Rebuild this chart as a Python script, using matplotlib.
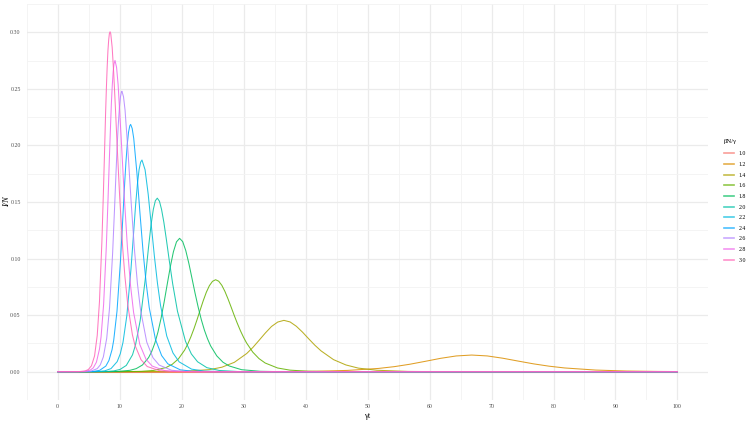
import numpy as np
import matplotlib.pyplot as plt
from matplotlib.lines import Line2D

plt.rcParams['font.family'] = ['Liberation Serif', 'DejaVu Serif']

# I/N for each value of beta*N/gamma (x = gamma*t)
r0_labels = ['1.0', '1.2', '1.4', '1.6', '1.8', '2.0', '2.2', '2.4', '2.6', '2.8', '3.0']
colors = ['#F8766D', '#DB8E00', '#AEA200', '#64B200', '#00BD5C', '#00C1A7',
          '#00BADE', '#00A6FF', '#B385FF', '#EF67EB', '#FF63B6']

x_10 = [0, 100]
y_10 = [0, 0]

x_12 = [0, 6.8, 16.8, 26.8, 36.8, 41.8, 46.8, 51.8, 54.3, 56.8, 59.3, 61.8, 64.3, 66.8,
        69.3, 71.8, 74.3, 76.8, 79.3, 81.8, 86.8, 91.8, 96.8, 100]
y_12 = [0, 0.0000004, 0.000003, 0.000022, 0.000165, 0.00044, 0.00117, 0.00293, 0.00448,
        0.0066, 0.00918, 0.01186, 0.01394, 0.01474, 0.01397, 0.01195, 0.00941, 0.00694,
        0.00489, 0.00333, 0.00147, 0.00062, 0.00026, 0.00015]

x_14 = [0, 16.5, 20.5, 24.5, 26.5, 28.5, 30.5, 31.5, 32.5, 33.5, 34.5, 35.5, 36.5, 37.5,
        38.5, 39.5, 40.5, 41.5, 42.5, 44.5, 46.5, 48.5, 51.5, 56.5, 61.5, 66.5, 100]
y_14 = [0, 0.00008, 0.00039, 0.00186, 0.0040, 0.0083, 0.0161, 0.0215, 0.0278, 0.0342,
        0.0400, 0.0439, 0.0454, 0.0440, 0.0402, 0.0350, 0.0291, 0.0234, 0.0184, 0.0107,
        0.0060, 0.0032, 0.0013, 0.00027, 0.00006, 0.00001, 0]

x_16 = [0, 10.48, 13.48, 15.48, 17.48, 18.48, 19.48, 20.48, 20.98, 21.48, 21.98, 22.48,
        22.98, 23.48, 23.98, 24.48, 24.98, 25.48, 25.98, 26.48, 26.98, 27.48, 27.98, 28.48,
        28.98, 29.48, 29.98, 30.48, 31.48, 32.48, 33.48, 35.48, 37.48, 40.48, 45.48, 100]
y_16 = [0, 0.00006, 0.00035, 0.00115, 0.0037, 0.00655, 0.01135, 0.0191, 0.0244, 0.0307,
        0.0379, 0.0459, 0.0544, 0.0627, 0.0702, 0.0761, 0.0799, 0.0813, 0.0800, 0.0764,
        0.0710, 0.0644, 0.0572, 0.0498, 0.0428, 0.0363, 0.0305, 0.0254, 0.0173, 0.0116,
        0.0077, 0.0033, 0.0014, 0.0004, 0.00005, 0]

x_18 = [0, 7.67, 9.67, 11.67, 12.67, 13.67, 14.67, 15.17, 15.67, 16.17, 16.67, 17.17, 17.67,
        18.17, 18.67, 19.17, 19.67, 20.17, 20.67, 21.17, 21.67, 22.17, 22.67, 23.17, 23.67,
        24.17, 24.67, 25.67, 26.67, 27.67, 29.67, 32.67, 35.67, 39.67, 100]
y_18 = [0, 0.00005, 0.00026, 0.00125, 0.00274, 0.00593, 0.0125, 0.0179, 0.0252, 0.0349,
        0.0470, 0.0614, 0.0772, 0.0927, 0.1060, 0.1148, 0.1179, 0.1150, 0.1070, 0.0956,
        0.0825, 0.0693, 0.0570, 0.0461, 0.0368, 0.0292, 0.0229, 0.0140, 0.0084, 0.0051,
        0.0018, 0.00038, 0.00008, 0.00001, 0]

x_20 = [0, 6.07, 8.07, 9.07, 10.07, 11.07, 12.07, 12.56, 13.31, 14.12, 14.64, 15.06, 15.43,
        15.76, 16.07, 16.42, 16.76, 17.13, 17.53, 17.99, 18.56, 19.33, 20.62, 21.57, 22.57,
        24.07, 26.07, 29.07, 32.07, 100]
y_20 = [0, 0.00004, 0.00028, 0.00075, 0.00205, 0.00557, 0.0149, 0.0238, 0.0452, 0.0813,
        0.1092, 0.1297, 0.1435, 0.1512, 0.1534, 0.1507, 0.1434, 0.1321, 0.1171, 0.0988,
        0.0775, 0.0534, 0.0269, 0.0157, 0.0088, 0.0036, 0.0011, 0.00018, 0.00003, 0]

x_22 = [0, 5.6, 6.6, 7.6, 8.6, 9.6, 10.1, 10.54, 11.16, 11.82, 12.25, 12.58, 12.87, 13.13,
        13.38, 13.6, 14.1, 14.6, 15.1, 15.6, 16.1, 16.6, 17.6, 18.6, 19.6, 21.6, 23.6, 26.6,
        29.6, 100]
y_22 = [0, 0.00007, 0.00024, 0.00081, 0.00275, 0.00893, 0.0159, 0.0260, 0.0497, 0.0904,
        0.1228, 0.1479, 0.1662, 0.1785, 0.1852, 0.1871, 0.1785, 0.1570, 0.1296, 0.1022,
        0.0781, 0.0584, 0.0315, 0.0166, 0.0087, 0.0023, 0.0006, 0.00009, 0.00001, 0]

x_24 = [0, 4.77, 5.77, 6.77, 7.77, 8.27, 8.77, 9.04, 9.57, 10.13, 10.49, 10.77, 11.01, 11.23,
        11.43, 11.63, 11.77, 12.02, 12.27, 12.77, 13.27, 13.77, 14.27, 14.77, 15.77, 16.77,
        17.77, 19.77, 21.77, 24.77, 100]
y_24 = [0, 0.00007, 0.0003, 0.00124, 0.0050, 0.00998, 0.0195, 0.0279, 0.0535, 0.0979,
        0.1342, 0.1630, 0.1851, 0.2012, 0.2117, 0.2173, 0.2186, 0.2150, 0.2062, 0.1764,
        0.1405, 0.1066, 0.0785, 0.0567, 0.0287, 0.0143, 0.0070, 0.0017, 0.0004, 0.00005, 0]

x_26 = [0, 4.37, 5.37, 6.37, 6.87, 7.37, 7.91, 8.37, 8.86, 9.17, 9.41, 9.61, 9.80, 9.97,
        10.13, 10.28, 10.37, 10.62, 10.87, 11.37, 11.87, 12.37, 12.87, 13.37, 14.37, 15.37,
        16.37, 18.37, 20.37, 23.37, 100]
y_26 = [0, 0.00011, 0.00055, 0.00272, 0.00601, 0.01314, 0.0295, 0.0567, 0.1044, 0.1438,
        0.1758, 0.2012, 0.2204, 0.2342, 0.2430, 0.2473, 0.2479, 0.2430, 0.2312, 0.1925,
        0.1484, 0.1089, 0.0777, 0.0545, 0.0262, 0.0124, 0.0059, 0.0013, 0.0003, 0.00003, 0]

x_28 = [0, 3.25, 4.25, 5.25, 5.75, 6.25, 6.75, 7.00, 7.41, 7.84, 8.12, 8.33, 8.51, 8.66,
        8.81, 8.95, 9.08, 9.25, 9.50, 9.75, 10.25, 10.75, 11.25, 11.75, 12.25, 13.25, 14.25,
        15.25, 17.25, 19.25, 22.25, 100]
y_28 = [0, 0.00004, 0.00023, 0.00141, 0.00349, 0.00846, 0.0202, 0.0309, 0.0595, 0.1098,
        0.1520, 0.1868, 0.2149, 0.2369, 0.2534, 0.2650, 0.2720, 0.2751, 0.2690, 0.2538,
        0.2060, 0.1542, 0.1100, 0.0764, 0.0523, 0.0241, 0.0110, 0.0050, 0.0010, 0.0002,
        0.00002, 0]

x_30 = [0, 3.45, 4.45, 4.95, 5.45, 5.95, 6.38, 6.74, 7.13, 7.38, 7.57, 7.72, 7.86, 7.99,
        8.11, 8.23, 8.34, 8.45, 8.56, 8.79, 9.03, 9.30, 9.61, 9.99, 10.49, 10.84, 11.31,
        12.05, 12.45, 13.45, 14.45, 16.45, 18.45, 21.45, 100]
y_30 = [0, 0.0001, 0.00074, 0.00197, 0.00525, 0.0140, 0.0321, 0.0619, 0.1146, 0.1592,
        0.1964, 0.2268, 0.2512, 0.2701, 0.2840, 0.2934, 0.2988, 0.3005, 0.2988, 0.2867,
        0.2648, 0.2347, 0.1980, 0.1559, 0.1093, 0.0846, 0.0590, 0.0328, 0.0237, 0.0106,
        0.0046, 0.0009, 0.0002, 0.00002, 0]

xs = [x_10, x_12, x_14, x_16, x_18, x_20, x_22, x_24, x_26, x_28, x_30]
ys = [y_10, y_12, y_14, y_16, y_18, y_20, y_22, y_24, y_26, y_28, y_30]

x_ticks = np.arange(0, 101, 10)
y_ticks = [0.00, 0.05, 0.10, 0.15, 0.20, 0.25, 0.30]

fig = plt.figure(figsize=(7.5, 4.22), dpi=100)
ax = fig.add_axes([0.0356, 0.0521, 0.909, 0.9384])

for x, y, c in zip(xs, ys, colors):
    ax.plot(x, y, color=c, lw=0.75, alpha=0.85, solid_joinstyle='round')

ax.set_xlim(-5, 105)
ax.set_ylim(-0.0146, 0.325)
ax.set_xticks(x_ticks)
ax.set_xticks(np.arange(-5, 106, 10), minor=True)
ax.set_yticks(y_ticks)
ax.set_yticks(np.arange(-0.025, 0.33, 0.05), minor=True)
ax.set_xticklabels([str(v) for v in x_ticks])
ax.set_yticklabels(['%.2f' % v for v in y_ticks])
ax.grid(which='major', color='#EBEBEB', lw=0.9)
ax.grid(which='minor', color='#F3F3F3', lw=0.6)
ax.set_axisbelow(True)
for s in ax.spines.values():
    s.set_visible(False)
ax.tick_params(which='both', length=0, labelsize=4.2, colors='#4D4D4D')
ax.tick_params(axis='x', pad=2.8)
ax.tick_params(axis='y', pad=4.3)

ax.set_xlabel('γt', fontsize=6, va='center')
ax.xaxis.set_label_coords(0.5, -0.04)
ax.set_ylabel('I/N', fontsize=6, style='italic', va='center')
ax.yaxis.set_label_coords(-0.029, 0.5)

handles = [Line2D([], [], color=c, lw=1.2, alpha=0.7) for c in colors]
leg = fig.legend(handles, r0_labels, title='βN/γ', loc='upper left',
                 bbox_to_anchor=(0.958, 0.682), frameon=False, fontsize=4.2,
                 title_fontsize=4.8, handlelength=1.7, handletextpad=0.85,
                 labelspacing=0.95)
leg._legend_box.align = 'left'
leg._legend_box.sep = 5

fig.savefig('out.png', dpi=100)
